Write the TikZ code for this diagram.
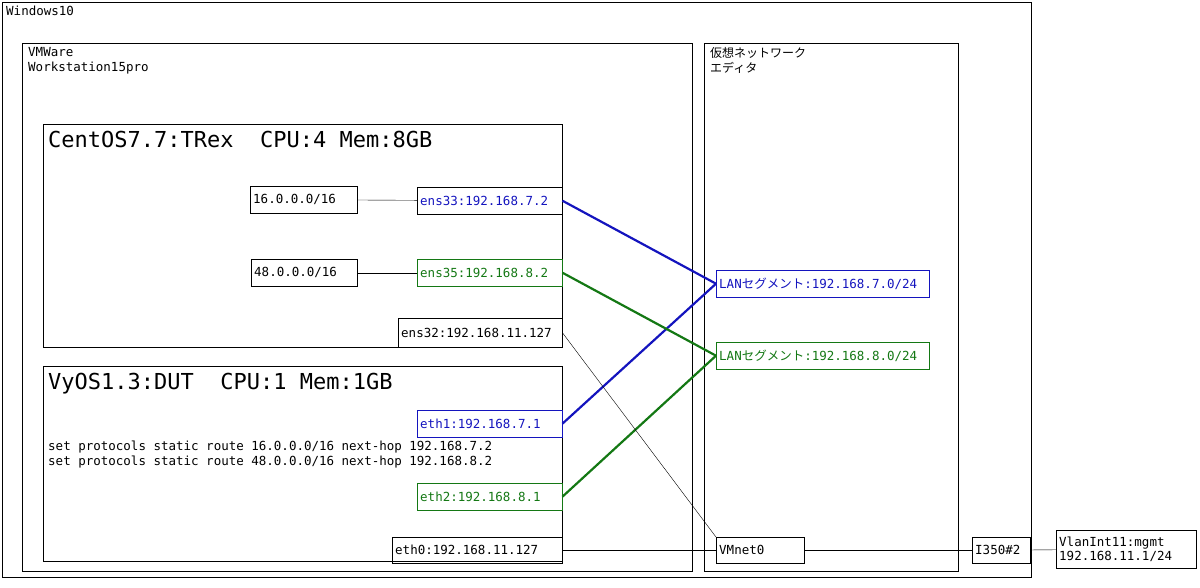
\documentclass[tikz,border=0pt]{standalone}
\usepackage{fontspec}
\setmainfont{DejaVu Sans Mono}
\newfontfamily\cjk{Noto Sans CJK JP}
\definecolor{bl}{RGB}{20,20,190}
\definecolor{gr}{RGB}{20,120,20}
\begin{document}
\begin{tikzpicture}[x=1pt,y=-1pt,
 box/.style={draw,thin,inner sep=0pt,anchor=north west},
 lbl/.style={box,font=\fontsize{12.5}{14}\selectfont,align=left,text width=#1-6pt,minimum width=#1,inner xsep=3pt},
 thick1/.style={line width=2.2pt},
 txt/.style={anchor=north west,inner sep=0pt,font=\fontsize{12.5}{15}\selectfont,align=left}]
\useasboundingbox (0,0) rectangle (1200,587);
\draw (2,2) rectangle (1031,577);
\node[txt] (w) at (6,6) {Windows10};
\draw (22,43) rectangle (692,571);
\node[txt] (vm) at (28,47) {VMWare\\Workstation15pro};
\draw (704,43) rectangle (958,571);
\node[txt,font=\cjk\fontsize{12}{15}\selectfont] (ne) at (710,47) {仮想ネットワーク\\エディタ};
\draw (43,124) rectangle (562,347);
\node[txt,font=\fontsize{22}{24}\selectfont] (ct) at (48,131) {CentOS7.7:TRex\ \ CPU:4 Mem:8GB};
\draw (43,366) rectangle (562,561);
\node[txt,font=\fontsize{22}{24}\selectfont] (vt) at (48,373) {VyOS1.3:DUT\ \ CPU:1 Mem:1GB};
\node[txt] (set) at (48,441) {set protocols static route 16.0.0.0/16 next-hop 192.168.7.2\\set protocols static route 48.0.0.0/16 next-hop 192.168.8.2};
\node[lbl=107pt,minimum height=27pt] (n16) at (250,186) {16.0.0.0/16};
\node[lbl=106pt,minimum height=27pt] (n48) at (251,259) {48.0.0.0/16};
\node[lbl=145pt,text=bl,minimum height=27pt] (e33) at (417,187) {ens33:192.168.7.2};
\node[lbl=145pt,text=gr,draw=gr,minimum height=27pt] (e35) at (417,259) {ens35:192.168.8.2};
\node[lbl=164pt,minimum height=29pt] (e32) at (398,318) {ens32:192.168.11.127};
\node[lbl=145pt,text=bl,draw=bl,minimum height=27pt] (eth1) at (417,410) {eth1:192.168.7.1};
\node[lbl=145pt,text=gr,draw=gr,minimum height=27pt] (eth2) at (417,483) {eth2:192.168.8.1};
\node[lbl=170pt,minimum height=26pt] (eth0) at (392,537) {eth0:192.168.11.127};
\node[lbl=213pt,text=bl,draw=bl,minimum height=27pt] (l7) at (716,270) {LAN{\cjk セグメント}:192.168.7.0/24};
\node[lbl=213pt,text=gr,draw=gr,minimum height=27pt] (l8) at (716,342) {LAN{\cjk セグメント}:192.168.8.0/24};
\node[lbl=88pt,minimum height=26pt] (vn) at (716,537) {VMnet0};
\node[lbl=58pt,minimum height=26pt] (i3) at (972,537) {I350\#2};
\node[lbl=140pt,minimum height=38pt] (vl) at (1056,530) {VlanInt11:mgmt\\192.168.11.1/24};
\draw (n16) -- (e33);
\draw (n48) -- (e35);
\draw[bl,thick1] (e33.east) -- (l7.west);
\draw[bl,thick1] (eth1.east) -- (l7.west);
\draw[gr,thick1] (e35.east) -- (l8.west);
\draw[gr,thick1] (eth2.east) -- (l8.west);
\draw (e32.east) -- (vn.north west);
\draw (eth0) -- (vn);
\draw (vn) -- (i3);
\draw (i3) -- (vl);
\end{tikzpicture}
\end{document}
